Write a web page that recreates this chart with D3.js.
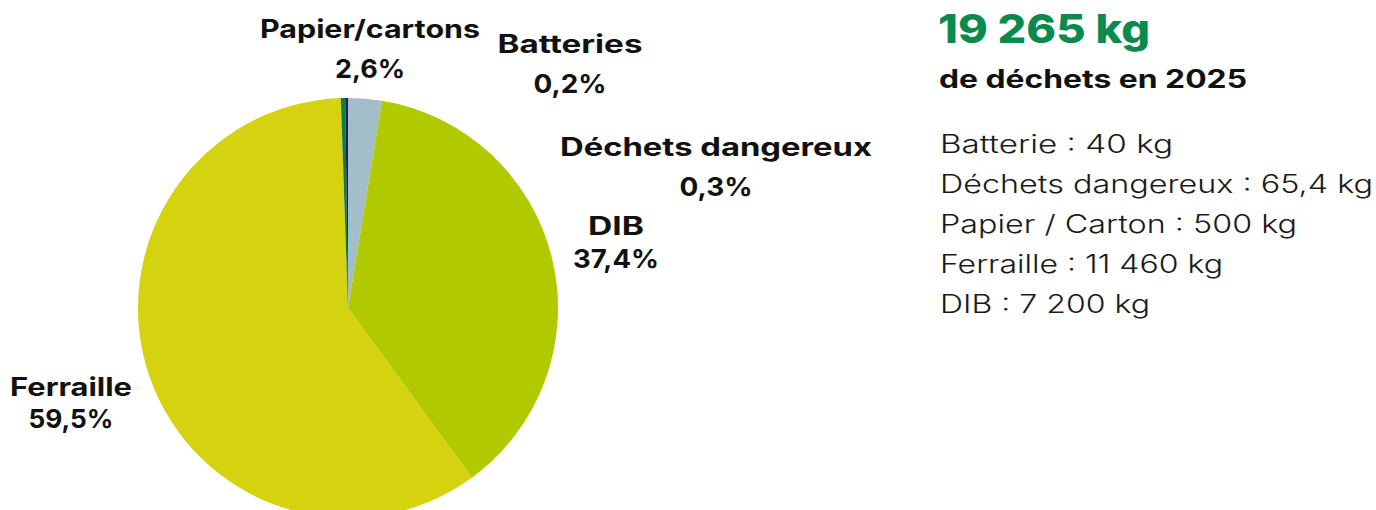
<!DOCTYPE html>
<html>
<head>
<meta charset="utf-8">
<script src="https://cdn.jsdelivr.net/npm/d3@7"></script>
<style>
  html, body { margin: 0; padding: 0; background: #fff; }
  svg { display: block; }
  text { font-family: Inter, "Noto Sans", sans-serif; }
</style>
</head>
<body>
<div id="chart"></div>
<script>
const categories = ["Papier/cartons", "DIB", "Ferraille", "Déchets dangereux", "Batteries"];
const weightsKg = [500, 7200, 11460, 65.4, 40];
const sliceColors = ["#a3bdcb", "#b1ca00", "#d5d20f", "#0f7b4a", "#1e2050"];

const totalLabel = "19 265 kg";
const subtitle = "de déchets en 2025";
const listLines = [
    "Batterie : 40 kg",
    "Déchets dangereux : 65,4 kg",
    "Papier / Carton : 500 kg",
    "Ferraille : 11 460 kg",
    "DIB : 7 200 kg",
];

// label placement (manual, like the original)
const labelLayout = {
    "Papier/cartons": { x: 370, y: 38, dy: 40, w: 220, pw: 70 },
    "Batteries": { x: 570, y: 53, dy: 40, w: 145, pw: 73 },
    "Déchets dangereux": { x: 716, y: 156, dy: 40, w: 312, pw: 73 },
    "DIB": { x: 616, y: 235, dy: 33, w: 56, pw: 86 },
    "Ferraille": { x: 71, y: 396, dy: 32, w: 122, pw: 85 },
};
const listWidths = [233, 433, 357, 283, 210];

const width = 1376, height = 510;
const cx = 348, cy = 308, radius = 210;

const svg = d3.select("#chart").append("svg")
    .attr("width", width)
    .attr("height", height);

const total = d3.sum(weightsKg);
const fmtPct = v => d3.format(".1f")(v * 100).replace(".", ",") + "%";

const pie = d3.pie().sort(null).value(d => d.value);
const arc = d3.arc().innerRadius(0).outerRadius(radius);

const data = categories.map((c, i) => ({ category: c, value: weightsKg[i], color: sliceColors[i] }));

const g = svg.append("g").attr("transform", `translate(${cx},${cy})`);

g.selectAll("path")
    .data(pie(data))
    .enter()
    .append("path")
    .attr("d", arc)
    .attr("fill", d => d.data.color);

// slice labels
const labels = svg.append("g");
data.forEach(d => {
    const L = labelLayout[d.category];
    labels.append("text")
        .attr("x", L.x)
        .attr("y", L.y)
        .attr("text-anchor", "middle")
        .attr("font-size", 25)
        .attr("font-weight", 700)
        .attr("fill", "#111")
        .attr("textLength", L.w)
        .attr("lengthAdjust", "spacingAndGlyphs")
        .text(d.category);
    labels.append("text")
        .attr("x", L.x)
        .attr("y", L.y + L.dy)
        .attr("text-anchor", "middle")
        .attr("font-size", 26)
        .attr("font-weight", 700)
        .attr("fill", "#111")
        .attr("textLength", L.pw)
        .attr("lengthAdjust", "spacingAndGlyphs")
        .text(fmtPct(d.value / total));
});

// summary on the right
const side = svg.append("g").attr("transform", "translate(938,0)");

side.append("text")
    .attr("x", 0).attr("y", 43)
    .attr("font-size", 40)
    .attr("font-weight", 800)
    .attr("fill", "#0a8a4c")
    .attr("textLength", 212)
    .attr("lengthAdjust", "spacingAndGlyphs")
    .text(totalLabel);

side.append("text")
    .attr("x", 1).attr("y", 88)
    .attr("font-size", 25)
    .attr("font-weight", 700)
    .attr("fill", "#111")
    .attr("textLength", 308)
    .attr("lengthAdjust", "spacingAndGlyphs")
    .text(subtitle);

side.selectAll("text.item")
    .data(listLines)
    .enter()
    .append("text")
    .attr("class", "item")
    .attr("x", 2)
    .attr("y", (d, i) => 153 + i * 40)
    .attr("font-size", 25)
    .attr("font-weight", 300)
    .attr("fill", "#1a1a1a")
    .attr("textLength", (d, i) => listWidths[i])
    .attr("lengthAdjust", "spacingAndGlyphs")
    .text(d => d);
</script>
</body>
</html>
